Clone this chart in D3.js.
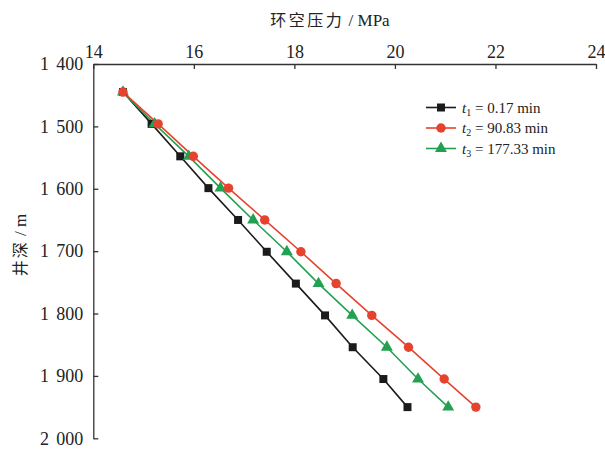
<!DOCTYPE html>
<html>
<head>
<meta charset="utf-8">
<script src="https://cdn.jsdelivr.net/npm/d3@7"></script>
<style>
  html, body { margin: 0; padding: 0; background: #fff; }
  svg { display: block; }
</style>
</head>
<body>
<script>
// ---- data ----
const depths = [1445, 1496, 1548, 1599, 1650, 1701, 1752, 1803, 1854, 1905, 1950];
const seriesT1 = [14.59, 15.16, 15.73, 16.29, 16.88, 17.45, 18.03, 18.61, 19.16, 19.77, 20.25];
const seriesT2 = [14.59, 15.29, 15.99, 16.69, 17.41, 18.13, 18.83, 19.54, 20.27, 20.98, 21.61];
const seriesT3 = [14.59, 15.22, 15.90, 16.53, 17.18, 17.85, 18.48, 19.15, 19.84, 20.46, 21.06];
const seriesNames = ["t1", "t2", "t3"];
const seriesLabels = ["0.17 min", "90.83 min", "177.33 min"];
const xTicks = [14, 16, 18, 20, 22, 24];
const yTicks = [1400, 1500, 1600, 1700, 1800, 1900, 2000];
const xTitle = "环空压力 / MPa";
const yTitle = "井深 / m";

const W = 605, H = 451;
const margin = { left: 93.3, top: 64, right: 9, bottom: 12.7 };
const svg = d3.select("body").append("svg").attr("width", W).attr("height", H);

const x = d3.scaleLinear().domain([14, 24]).range([margin.left, 596]);
const y = d3.scaleLinear().domain([1400, 2000]).range([margin.top, 438.3]);

const serif = "'Liberation Serif', 'Times New Roman', serif";
const cjk = "'Noto Sans CJK SC', sans-serif";

// axes
const xAxis = d3.axisTop(x).tickValues(xTicks).tickSizeInner(-5).tickSizeOuter(0).tickPadding(6)
  .tickFormat(d3.format("d"));
const gx = svg.append("g").attr("transform", `translate(0,${margin.top})`).call(xAxis);

const yAxis = d3.axisLeft(y).tickValues(yTicks).tickSizeInner(-5).tickSizeOuter(0).tickPadding(10)
  .tickFormat(d => { const s = String(d); return s[0] + "\u2009" + "\u2009" + s.slice(1); });
const gy = svg.append("g").attr("transform", `translate(${margin.left},0)`).call(yAxis);

[gx, gy].forEach(g => {
  g.selectAll("path.domain").attr("stroke", "#333").attr("stroke-width", 1.3);
  g.selectAll(".tick line").attr("stroke", "#333").attr("stroke-width", 1.3);
  g.selectAll(".tick text").attr("font-family", serif).attr("font-size", 18).attr("fill", "#222");
});

// titles
const xt = svg.append("text").attr("x", 330).attr("y", 26).attr("text-anchor", "middle")
  .attr("fill", "#222");
xt.append("tspan").attr("font-family", cjk).attr("font-size", 16).attr("letter-spacing", 2.5).text("环空压力");
xt.append("tspan").attr("font-family", serif).attr("font-size", 17).text(" / MPa");

const yt = svg.append("text").attr("transform", "translate(26,245) rotate(-90)")
  .attr("text-anchor", "middle").attr("fill", "#222");
yt.append("tspan").attr("font-family", cjk).attr("font-size", 16).attr("letter-spacing", 2).text("井深");
yt.append("tspan").attr("font-family", serif).attr("font-size", 17).text(" / m");

// series
const colors = ["#1b1b1b", "#e6432f", "#24a052"];
const seriesData = [seriesT1, seriesT2, seriesT3];
const symbols = [d3.symbolSquare, d3.symbolCircle, d3.symbolTriangle];
const symSizes = [64, 70, 62];

const line = d3.line().x(d => x(d[0])).y(d => y(d[1]));

// draw order: t1 (black), t3 (green), t2 (red) so red on top like the reference
const order = [0, 2, 1];
order.forEach(i => {
  const pts = seriesData[i].map((v, k) => [v, depths[k]]);
  svg.append("path").datum(pts).attr("d", line).attr("fill", "none")
    .attr("stroke", colors[i]).attr("stroke-width", 1.6);
});
order.forEach(i => {
  const pts = seriesData[i].map((v, k) => [v, depths[k]]);
  svg.append("g").selectAll("path").data(pts).join("path")
    .attr("transform", d => `translate(${x(d[0])},${y(d[1])})`)
    .attr("d", d3.symbol().type(symbols[i]).size(symSizes[i]))
    .attr("fill", colors[i]);
});

// legend
const legY = [107.5, 128, 148.5];
const leg = svg.append("g");
seriesNames.forEach((n, i) => {
  const yy = legY[i];
  leg.append("line").attr("x1", 426).attr("x2", 456).attr("y1", yy).attr("y2", yy)
    .attr("stroke", colors[i]).attr("stroke-width", 1.6);
  leg.append("path").attr("transform", `translate(441,${yy})`)
    .attr("d", d3.symbol().type(symbols[i]).size(symSizes[i])).attr("fill", colors[i]);
  const t = leg.append("text").attr("x", 462).attr("y", yy + 5).attr("font-family", serif)
    .attr("font-size", 15).attr("fill", "#222");
  t.append("tspan").attr("font-style", "italic").text("t");
  t.append("tspan").attr("font-size", 10).attr("dy", 3).text(String(i + 1));
  t.append("tspan").attr("dy", -3).text(" = " + seriesLabels[i]);
});
</script>
</body>
</html>
